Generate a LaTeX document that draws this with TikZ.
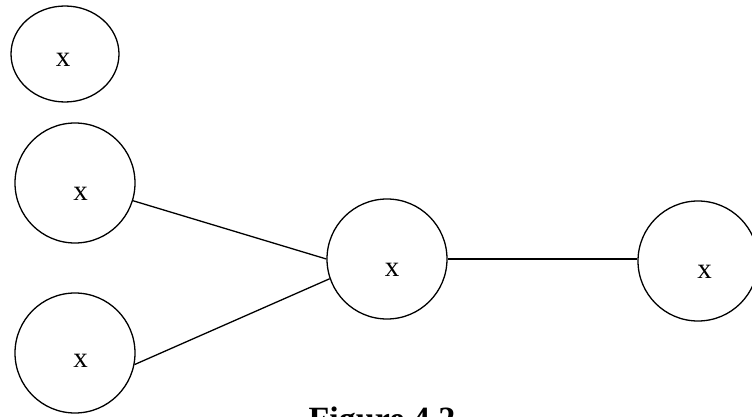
\documentclass[tikz,border=0pt]{standalone}
\usepackage{fontspec}
\setmainfont{Liberation Serif}
\usetikzlibrary{shapes.geometric}
\begin{document}
\begin{tikzpicture}[x=1pt,y=-1pt,
  unit/.style={draw,circle,line width=1.3pt,minimum size=120pt,inner sep=0pt},
  lbl/.style={inner sep=0pt,font=\fontsize{29}{32}\selectfont},
  link/.style={line width=1.3pt}]
\useasboundingbox (0,0) rectangle (752,417);
\node[draw,ellipse,line width=1.3pt,minimum width=108pt,minimum height=96pt,inner sep=0pt] (a) at (65,54) {};
\node[unit] (b) at (75,183) {};
\node[unit] (c) at (75,353) {};
\node[unit] (d) at (387,259) {};
\node[unit] (e) at (698,261) {};
\node[lbl] (ta) at (63,60) {x};
\node[lbl] (tb) at (80.5,194) {x};
\node[lbl] (tc) at (80.5,361) {x};
\node[lbl] (td) at (392,270) {x};
\node[lbl] (te) at (704.5,272) {x};
\draw[link] (b.-17) -- (d.180);
\draw[link] (c.-11) -- (d.199);
\draw[link] (d.east) -- (d.east -| e.west);
\node[anchor=base,inner sep=0pt,font=\fontsize{34}{36}\selectfont\bfseries] (title) at (382,430) {Figure 4.2};
\end{tikzpicture}
\end{document}
